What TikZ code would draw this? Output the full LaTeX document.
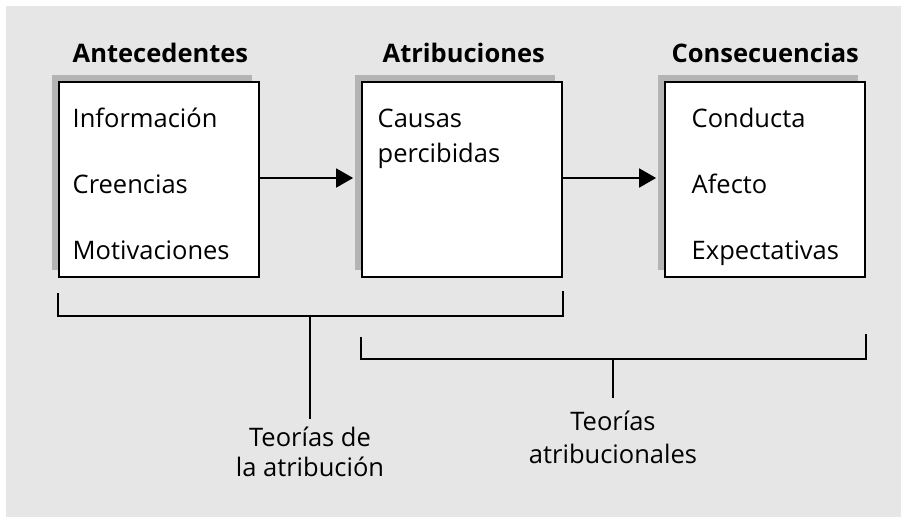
\documentclass[tikz,border=0pt]{standalone}
\usepackage{fontspec}
\setmainfont{Open Sans}
\usetikzlibrary{arrows.meta,shadows}
\definecolor{fondo}{HTML}{E6E6E6}
\definecolor{sombra}{HTML}{B4B4B4}
\tikzset{
	caja/.style={draw, line width=1.8pt, fill=white,
		minimum width=200pt, minimum height=195pt,
		general shadow={fill=sombra, shadow xshift=-7pt, shadow yshift=7pt}},
	titulo/.style={anchor=base west, font=\fontsize{25.5}{30}\selectfont\bfseries},
	flecha/.style={line width=1.8pt, -{Triangle[length=17pt,width=19pt]}, shorten >=8pt},
	corchete/.style={line width=1.8pt}
}
\begin{document}
\begin{tikzpicture}[x=1pt,y=-1pt,inner sep=0pt,font=\fontsize{25.5}{30}\selectfont]
				\useasboundingbox (0,0) rectangle (901,517);
				\fill[fondo] (6,6) rectangle (901,517);
				
				% cajas
				\node[caja] (ante) at (159,179.5) {};
				\node[caja] (atri) at (462,179.5) {};
				\node[caja] (cons) at (765,179.5) {};
				
				\node[titulo] (tante) at (72.5,62) {Antecedentes};
				\node[titulo] (tatri) at (382.5,62) {Atribuciones};
				\node[titulo] (tcons) at (671.5,62) {Consecuencias};
				
				\foreach \txt [count=\i] in {Información,Creencias,Motivaciones}
				{
					\node[anchor=base west] (ante\i) at (72.5,61+66*\i) {\txt};
				}
				\node[anchor=base west, align=left, font=\fontsize{25.5}{35}\selectfont] (causas) at (377.5,162) {Causas\\percibidas};
				\foreach \txt [count=\i] in {Conducta,Afecto,Expectativas}
				{
					\node[anchor=base west] (cons\i) at (691.5,61+66*\i) {\txt};
				}
				
				\draw[flecha] ([yshift=1.5pt]ante.east) -- ([yshift=1.5pt]atri.west);
				\draw[flecha] ([yshift=1.5pt]atri.east) -- ([yshift=1.5pt]cons.west);
				
				% corchetes
				\draw[corchete] (58,293) |- (563,316) -- (563,291);
				\draw[corchete] (361,337) |- (866,359) -- (866,334);
				\coordinate (c1) at (310,316);
				\coordinate (c2) at (613,359);
				
				\node[anchor=north, align=center] (lbl1) at (310,427) {Teorías de\\la atribución};
				\node[anchor=north, align=center, font=\fontsize{25.5}{33}\selectfont] (lbl2) at (613,411) {Teorías\\atribucionales};
				\draw[line width=1.4pt, shorten >=8pt] (c1) -- (lbl1.north);
				\draw[line width=1.4pt, shorten >=13pt] (c2) -- (lbl2.north);
				
			\end{tikzpicture}
\end{document}
